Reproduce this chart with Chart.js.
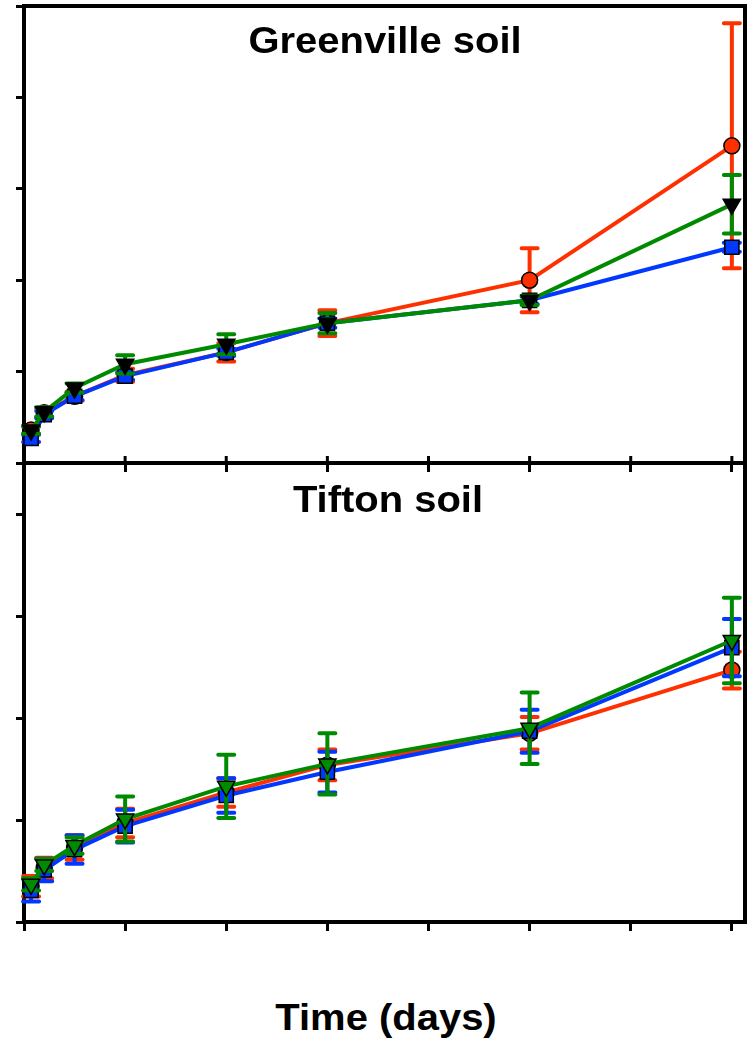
<!DOCTYPE html>
<html>
<head>
<meta charset="utf-8">
<script src="https://cdn.jsdelivr.net/npm/chart.js@4.4.1/dist/chart.umd.min.js"></script>
<style>
  body { margin:0; background:#fff; width:753px; height:1041px; position:relative; overflow:hidden; font-family:"Liberation Sans", Arial, sans-serif; }
  canvas { position:absolute; left:0; }
  #topChart { top:0; }
  #bottomChart { top:455px; }
  .label { position:absolute; font-weight:bold; font-size:37px; line-height:37px; white-space:nowrap; transform:translateX(-50%) scaleX(1.08); color:#000; }
</style>
</head>
<body>
<canvas id="topChart" width="753" height="480"></canvas>
<canvas id="bottomChart" width="753" height="490"></canvas>
<div class="label" style="left:385px;top:22px">Greenville soil</div>
<div class="label" style="left:388px;top:481px">Tifton soil</div>
<div class="label" style="left:386px;top:999px">Time (days)</div>
<script>
// sampling days and axis ticks
const days = [0.7, 2, 5, 10, 20, 30, 50, 70];
const xTicks = [0, 10, 20, 30, 40, 50, 60, 70];
const greenvilleTicks = [0, 1, 2, 3, 4, 5];
const tiftonTicks = [0, 1, 2, 3, 4];

// Greenville soil
const gvRed      = [0.36, 0.55, 0.73, 0.96, 1.21, 1.53, 2.00, 3.47];
const gvRedErr   = [0.04, 0.05, 0.05, 0.07, 0.10, 0.14, 0.35, 1.34];
const gvBlue     = [0.27, 0.53, 0.73, 0.95, 1.21, 1.53, 1.78, 2.36];
const gvBlueErr  = [0.04, 0.04, 0.04, 0.04, 0.04, 0.05, 0.04, 0.05];
const gvGreen    = [0.36, 0.56, 0.82, 1.08, 1.30, 1.53, 1.78, 2.83];
const gvGreenErr = [0.04, 0.05, 0.05, 0.10, 0.11, 0.11, 0.05, 0.32];

// Tifton soil
const tfRed      = [0.35, 0.53, 0.73, 0.97, 1.27, 1.54, 1.85, 2.47];
const tfRedErr   = [0.10, 0.10, 0.12, 0.14, 0.14, 0.15, 0.16, 0.18];
const tfBlue     = [0.31, 0.51, 0.71, 0.94, 1.24, 1.47, 1.87, 2.69];
const tfBlueErr  = [0.11, 0.11, 0.14, 0.16, 0.17, 0.20, 0.21, 0.28];
const tfGreen    = [0.37, 0.56, 0.75, 1.01, 1.33, 1.55, 1.90, 2.76];
const tfGreenErr = [0.06, 0.06, 0.08, 0.22, 0.31, 0.30, 0.35, 0.42];

const RED = "#ff3000";
const BLUE = "#0038ff";
const GREEN = "#008a00";

function points(values){
    return values.map((v, i) => ({ x: days[i], y: v }));
}

// error bars drawn under each dataset's own line and markers
const errorBars = {
    id: "errorBars",
    beforeDatasetDraw(chart, args) {
        const ds = chart.data.datasets[args.index];
        if (!ds.errors) return;
        const ctx = chart.ctx;
        const xs = chart.scales.x, ys = chart.scales.y;
        ctx.save();
        ctx.strokeStyle = ds.borderColor;
        ctx.lineWidth = 4;
        ctx.lineCap = "round";
        ds.data.forEach((p, i) => {
            const e = ds.errors[i];
            const x = xs.getPixelForValue(p.x);
            const y1 = ys.getPixelForValue(p.y + e);
            const y2 = ys.getPixelForValue(p.y - e);
            ctx.beginPath();
            ctx.moveTo(x, y1); ctx.lineTo(x, y2);
            ctx.moveTo(x - 8, y1); ctx.lineTo(x + 8, y1);
            ctx.moveTo(x - 8, y2); ctx.lineTo(x + 8, y2);
            ctx.stroke();
        });
        ctx.restore();
    }
};

// top and right edges of the box, plus inner stubs on the x ticks
const frame = {
    id: "frame",
    afterDraw(chart, args, opts) {
        const { ctx, chartArea: a } = chart;
        ctx.save();
        ctx.strokeStyle = "#000";
        ctx.lineWidth = 4;
        ctx.beginPath();
        ctx.moveTo(a.left - 2, a.top);
        ctx.lineTo(a.right, a.top);
        ctx.lineTo(a.right, a.bottom + 2);
        ctx.stroke();
        if (opts.stubs) {
            ctx.lineWidth = 3;
            xTicks.forEach(v => {
                const x = chart.scales.x.getPixelForValue(v);
                ctx.beginPath();
                ctx.moveTo(x, a.bottom);
                ctx.lineTo(x, a.bottom - 7);
                ctx.stroke();
            });
        }
        ctx.restore();
    }
};

function makeChart(id, cfg){
    const ctx = document.getElementById(id);
    return new Chart(ctx, {
        type: "line",
        data: {
            datasets: [
                {
                    label: "circle", data: points(cfg.red), errors: cfg.redErr,
                    borderColor: RED, backgroundColor: RED, borderWidth: 4,
                    pointStyle: "circle", pointRadius: 8,
                    pointBackgroundColor: RED, pointBorderColor: "#000", pointBorderWidth: 1.5,
                    order: 3, clip: false
                },
                {
                    label: "square", data: points(cfg.blue), errors: cfg.blueErr,
                    borderColor: BLUE, backgroundColor: BLUE, borderWidth: 4,
                    pointStyle: "rect", pointRadius: 10,
                    pointBackgroundColor: BLUE, pointBorderColor: "#000", pointBorderWidth: 1.5,
                    order: 2, clip: false
                },
                {
                    label: "triangle", data: points(cfg.green), errors: cfg.greenErr,
                    borderColor: GREEN, backgroundColor: cfg.triFill, borderWidth: 4,
                    pointStyle: "triangle", pointRotation: 180, pointRadius: 10,
                    pointBackgroundColor: cfg.triFill, pointBorderColor: "#000", pointBorderWidth: 1.5,
                    order: 1, clip: false
                }
            ]
        },
        options: {
            responsive: false,
            animation: false,
            layout: { autoPadding: false, padding: { top: cfg.padTop, right: 8, left: 0, bottom: 0 } },
            plugins: {
                legend: { display: false },
                tooltip: { enabled: false },
                frame: { stubs: cfg.stubs }
            },
            scales: {
                x: {
                    type: "linear", min: 0, max: 71.3,
                    afterBuildTicks: s => { s.ticks = xTicks.map(v => ({ value: v })); },
                    afterFit: s => { s.height = cfg.xHeight; },
                    ticks: { display: false },
                    grid: { drawOnChartArea: false, drawTicks: true, tickLength: 9, color: "#000", lineWidth: 3 },
                    border: { display: true, color: "#000", width: 4 }
                },
                y: {
                    type: "linear", min: 0, max: cfg.yMax,
                    afterBuildTicks: s => { s.ticks = cfg.yTicks.map(v => ({ value: v })); },
                    afterFit: s => { s.width = 24; },
                    ticks: { display: false },
                    grid: { drawOnChartArea: false, drawTicks: true, tickLength: 8, color: "#000", lineWidth: 3 },
                    border: { display: true, color: "#000", width: 4 }
                }
            }
        },
        plugins: [errorBars, frame]
    });
}

makeChart("topChart", {
    red: gvRed, redErr: gvRedErr, blue: gvBlue, blueErr: gvBlueErr,
    green: gvGreen, greenErr: gvGreenErr, triFill: "#000",
    yMax: 5, yTicks: greenvilleTicks, padTop: 6, xHeight: 17, stubs: true
});

makeChart("bottomChart", {
    red: tfRed, redErr: tfRedErr, blue: tfBlue, blueErr: tfBlueErr,
    green: tfGreen, greenErr: tfGreenErr, triFill: GREEN,
    yMax: 4.5, yTicks: tiftonTicks, padTop: 8, xHeight: 23, stubs: false
});
</script>
</body>
</html>
